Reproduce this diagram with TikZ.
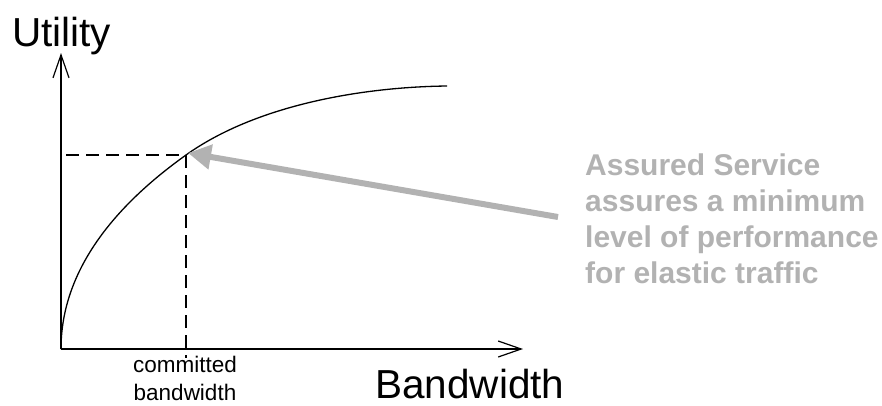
\documentclass[tikz,border=0pt]{standalone}
\usepackage{fontspec}
\setmainfont{Liberation Sans}
\usetikzlibrary{arrows.meta}
\definecolor{notegray}{RGB}{178,178,178}
\begin{document}
\begin{tikzpicture}[x=1pt,y=-1pt,
  axis/.style={line width=1.2pt,-{Straight Barb[length=23pt,width=16pt,line width=1.2pt]}},
  guide/.style={line width=1.1pt,dash pattern=on 13pt off 7pt},
  curveline/.style={line width=1.3pt},
  notearrow/.style={notegray,line width=6pt,-{Triangle[length=23pt,width=24pt]}},
  bigtxt/.style={font=\fontsize{40.5}{44}\selectfont,inner sep=0pt},
  smalltxt/.style={font=\fontsize{22.5}{28}\selectfont,inner sep=0pt,align=center},
  notetxt/.style={font=\fontsize{30}{36}\selectfont\bfseries,text=notegray,inner sep=0pt,align=left}]
\useasboundingbox (0,0) rectangle (882,405);
\coordinate (O) at (61,349);
\coordinate (ytip) at (61,53);
\coordinate (xtip) at (523,349);
\coordinate (P) at (186,155);
\coordinate (cend) at (447,86);
\coordinate (hstart) at (66,155);
\coordinate (vend) at (186,358);
\coordinate (arrtail) at (558,217);
\draw[axis] (O) -- (ytip);
\draw[axis] (O) -- (xtip);
\draw[curveline] (O) .. controls (61,260) and (130,195) .. (P)
  .. controls (256,105) and (362,87) .. (cend);
\draw[guide] (hstart) -- (P);
\draw[guide] (P) -- (vend);
\draw[notearrow] (arrtail) -- ([xshift=2pt,yshift=2pt]P);
\node[bigtxt,anchor=base west] (util) at (12,46) {Utility};
\node[bigtxt,anchor=base west] (bw) at (375,398) {Bandwidth};
\node[smalltxt,anchor=base] (cb) at (185,400) {committed\\bandwidth};
\node[notetxt,anchor=base west] (note) at (585,283) {Assured Service\\assures a minimum\\level of performance\\for elastic traffic};
\end{tikzpicture}
\end{document}
